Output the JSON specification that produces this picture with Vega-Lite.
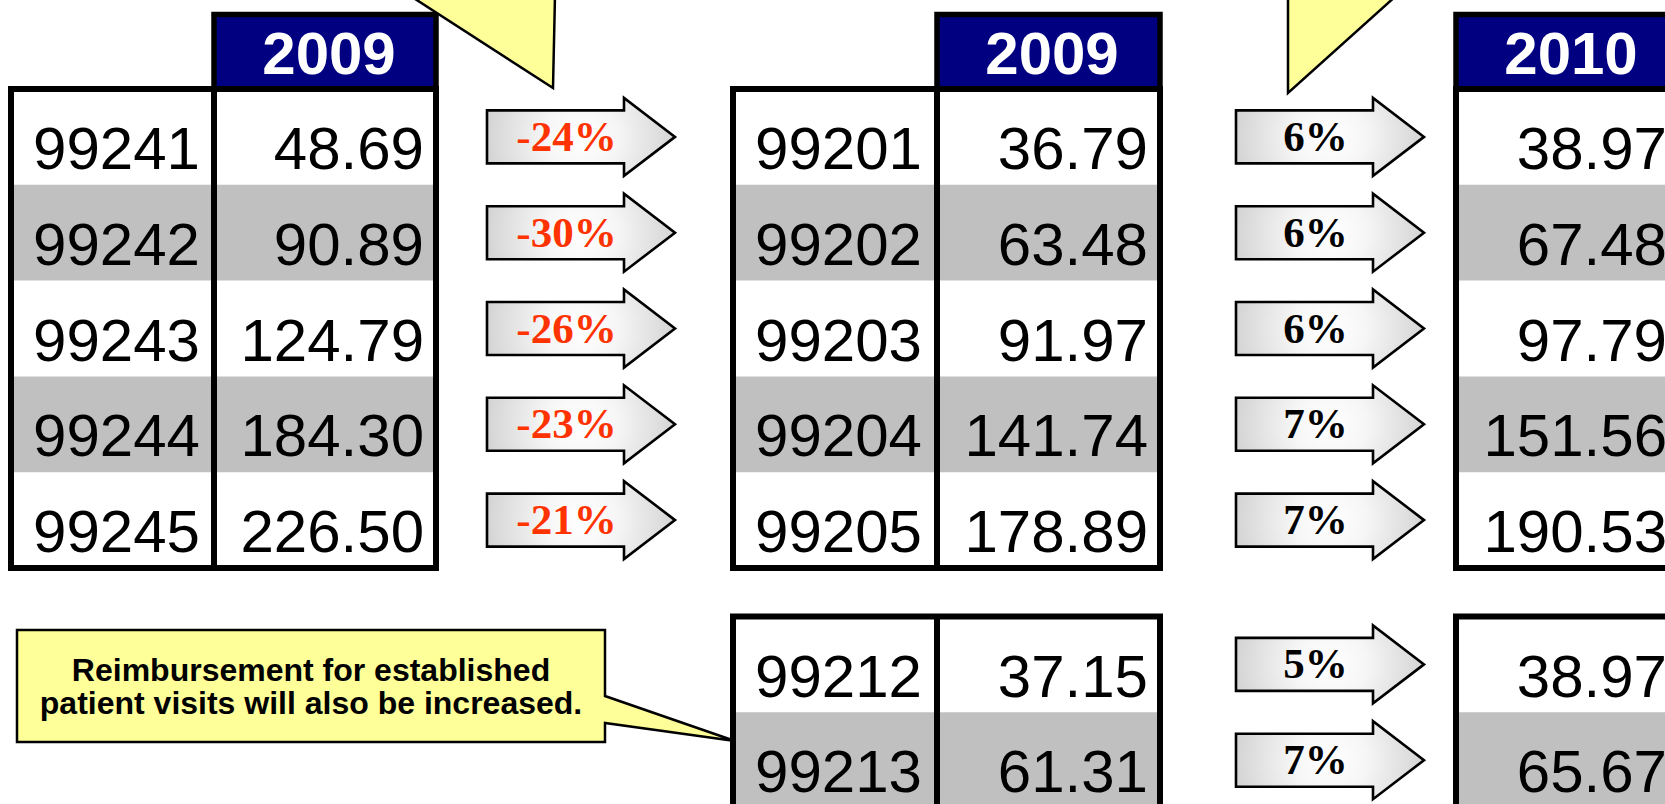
{
  "$schema": "https://vega.github.io/schema/vega-lite/v6.json",
  "width": 1665,
  "height": 804,
  "padding": 0,
  "autosize": {"type": "none"},
  "background": "white",
  "config": {"view": {"stroke": null}},
  "datasets": {
    "bands": [
      {"colL": 0, "colR": 2, "rowT": 2, "rowB": 3},
      {"colL": 0, "colR": 2, "rowT": 4, "rowB": 5},
      {"colL": 4, "colR": 6, "rowT": 2, "rowB": 3},
      {"colL": 4, "colR": 6, "rowT": 4, "rowB": 5},
      {"colL": 8, "colR": 9, "rowT": 2, "rowB": 3},
      {"colL": 8, "colR": 9, "rowT": 4, "rowB": 5},
      {"colL": 4, "colR": 6, "rowT": 8, "rowB": 9},
      {"colL": 8, "colR": 9, "rowT": 8, "rowB": 9}
    ],
    "headers": [
      {"year": "2009", "colL": 1, "colR": 2, "rowT": 0, "rowB": 1},
      {"year": "2009", "colL": 5, "colR": 6, "rowT": 0, "rowB": 1},
      {"year": "2010", "colL": 8, "colR": 9, "rowT": 0, "rowB": 1}
    ],
    "frames": [
      {"colL": 0, "colR": 2, "rowT": 1, "rowB": 6},
      {"colL": 4, "colR": 6, "rowT": 1, "rowB": 6},
      {"colL": 8, "colR": 9, "rowT": 1, "rowB": 6},
      {"colL": 4, "colR": 6, "rowT": 7, "rowB": 9},
      {"colL": 8, "colR": 9, "rowT": 7, "rowB": 9}
    ],
    "dividers": [
      {"col": 1, "rowT": 1, "rowB": 6},
      {"col": 5, "rowT": 1, "rowB": 6},
      {"col": 5, "rowT": 7, "rowB": 9}
    ],
    "cells": [
      {"code": "99241", "fee": "48.69", "colL": 0, "colR": 2, "row": 1},
      {"code": "99242", "fee": "90.89", "colL": 0, "colR": 2, "row": 2},
      {"code": "99243", "fee": "124.79", "colL": 0, "colR": 2, "row": 3},
      {"code": "99244", "fee": "184.30", "colL": 0, "colR": 2, "row": 4},
      {"code": "99245", "fee": "226.50", "colL": 0, "colR": 2, "row": 5},
      {"code": "99201", "fee": "36.79", "colL": 4, "colR": 6, "row": 1},
      {"code": "99202", "fee": "63.48", "colL": 4, "colR": 6, "row": 2},
      {"code": "99203", "fee": "91.97", "colL": 4, "colR": 6, "row": 3},
      {"code": "99204", "fee": "141.74", "colL": 4, "colR": 6, "row": 4},
      {"code": "99205", "fee": "178.89", "colL": 4, "colR": 6, "row": 5},
      {"code": "99212", "fee": "37.15", "colL": 4, "colR": 6, "row": 7},
      {"code": "99213", "fee": "61.31", "colL": 4, "colR": 6, "row": 8},
      {"code": "", "fee": "38.97", "colL": 8, "colR": 9, "row": 1},
      {"code": "", "fee": "67.48", "colL": 8, "colR": 9, "row": 2},
      {"code": "", "fee": "97.79", "colL": 8, "colR": 9, "row": 3},
      {"code": "", "fee": "151.56", "colL": 8, "colR": 9, "row": 4},
      {"code": "", "fee": "190.53", "colL": 8, "colR": 9, "row": 5},
      {"code": "", "fee": "38.97", "colL": 8, "colR": 9, "row": 7},
      {"code": "", "fee": "65.67", "colL": 8, "colR": 9, "row": 8}
    ],
    "changes": [
      {"pct": "-24%", "dir": "down", "col": 3, "row": 1.5},
      {"pct": "-30%", "dir": "down", "col": 3, "row": 2.5},
      {"pct": "-26%", "dir": "down", "col": 3, "row": 3.5},
      {"pct": "-23%", "dir": "down", "col": 3, "row": 4.5},
      {"pct": "-21%", "dir": "down", "col": 3, "row": 5.5},
      {"pct": "6%", "dir": "up", "col": 7, "row": 1.5},
      {"pct": "6%", "dir": "up", "col": 7, "row": 2.5},
      {"pct": "6%", "dir": "up", "col": 7, "row": 3.5},
      {"pct": "7%", "dir": "up", "col": 7, "row": 4.5},
      {"pct": "7%", "dir": "up", "col": 7, "row": 5.5},
      {"pct": "5%", "dir": "up", "col": 7, "row": 7.5},
      {"pct": "7%", "dir": "up", "col": 7, "row": 8.5}
    ],
    "callouts": [
      {"id": "topLeft", "col": 3, "row": 1},
      {"id": "topRight", "col": 7, "row": 1},
      {"id": "established", "col": 4, "row": 8}
    ],
    "notes": [
      {"note": "Reimbursement for established\npatient visits will also be increased.", "col": 4, "row": 8}
    ]
  },
  "layer": [
    {
      "data": {"name": "bands"},
      "mark": {"type": "rect", "fill": "#C0C0C0"},
      "encoding": {
        "x": {"field": "colL", "type": "quantitative", "axis": null, "scale": {"domain": [0,1,2,3,4,5,6,7,8,9], "range": [11,214,436,581,733,937,1160,1330,1456,1679], "zero": false, "nice": false}},
        "x2": {"field": "colR"},
        "y": {"field": "rowT", "type": "quantitative", "axis": null, "scale": {"domain": [0,1,2,3,4,5,6,7,8,9], "range": [14.5,89,184.8,280.6,376.4,472.2,568,616.5,712.3,808.1], "zero": false, "nice": false}},
        "y2": {"field": "rowB"}
      }
    },
    {
      "data": {"name": "headers"},
      "mark": {"type": "rect", "fill": "#000080", "stroke": "#000000", "strokeWidth": 5.5},
      "encoding": {
        "x": {"field": "colL", "type": "quantitative", "axis": null, "scale": {"domain": [0,1,2,3,4,5,6,7,8,9], "range": [11,214,436,581,733,937,1160,1330,1456,1679], "zero": false, "nice": false}},
        "x2": {"field": "colR"},
        "y": {"field": "rowT", "type": "quantitative", "axis": null, "scale": {"domain": [0,1,2,3,4,5,6,7,8,9], "range": [14.5,89,184.8,280.6,376.4,472.2,568,616.5,712.3,808.1], "zero": false, "nice": false}},
        "y2": {"field": "rowB"}
      }
    },
    {
      "data": {"name": "frames"},
      "mark": {"type": "rect", "fillOpacity": 0, "stroke": "#000000", "strokeWidth": 6},
      "encoding": {
        "x": {"field": "colL", "type": "quantitative", "axis": null, "scale": {"domain": [0,1,2,3,4,5,6,7,8,9], "range": [11,214,436,581,733,937,1160,1330,1456,1679], "zero": false, "nice": false}},
        "x2": {"field": "colR"},
        "y": {"field": "rowT", "type": "quantitative", "axis": null, "scale": {"domain": [0,1,2,3,4,5,6,7,8,9], "range": [14.5,89,184.8,280.6,376.4,472.2,568,616.5,712.3,808.1], "zero": false, "nice": false}},
        "y2": {"field": "rowB"}
      }
    },
    {
      "data": {"name": "dividers"},
      "mark": {"type": "rule", "color": "#000000", "strokeWidth": 6},
      "encoding": {
        "x": {"field": "col", "type": "quantitative", "axis": null, "scale": {"domain": [0,1,2,3,4,5,6,7,8,9], "range": [11,214,436,581,733,937,1160,1330,1456,1679], "zero": false, "nice": false}},
        "y": {"field": "rowT", "type": "quantitative", "axis": null, "scale": {"domain": [0,1,2,3,4,5,6,7,8,9], "range": [14.5,89,184.8,280.6,376.4,472.2,568,616.5,712.3,808.1], "zero": false, "nice": false}},
        "y2": {"field": "rowB"}
      }
    },
    {
      "data": {"name": "cells"},
      "mark": {"type": "text", "font": "Liberation Sans", "fontSize": 60, "align": "center", "baseline": "alphabetic", "dx": 105.5, "dy": 80, "color": "#000000"},
      "encoding": {
        "x": {"field": "colL", "type": "quantitative", "axis": null, "scale": {"domain": [0,1,2,3,4,5,6,7,8,9], "range": [11,214,436,581,733,937,1160,1330,1456,1679], "zero": false, "nice": false}},
        "y": {"field": "row", "type": "quantitative", "axis": null, "scale": {"domain": [0,1,2,3,4,5,6,7,8,9], "range": [14.5,89,184.8,280.6,376.4,472.2,568,616.5,712.3,808.1], "zero": false, "nice": false}},
        "text": {"field": "code"}
      }
    },
    {
      "data": {"name": "cells"},
      "mark": {"type": "text", "font": "Liberation Sans", "fontSize": 60, "align": "right", "baseline": "alphabetic", "dx": -12, "dy": 80, "color": "#000000"},
      "encoding": {
        "x": {"field": "colR", "type": "quantitative", "axis": null, "scale": {"domain": [0,1,2,3,4,5,6,7,8,9], "range": [11,214,436,581,733,937,1160,1330,1456,1679], "zero": false, "nice": false}},
        "y": {"field": "row", "type": "quantitative", "axis": null, "scale": {"domain": [0,1,2,3,4,5,6,7,8,9], "range": [14.5,89,184.8,280.6,376.4,472.2,568,616.5,712.3,808.1], "zero": false, "nice": false}},
        "text": {"field": "fee"}
      }
    },
    {
      "data": {"name": "headers"},
      "mark": {"type": "text", "font": "Liberation Sans", "fontSize": 60, "fontWeight": "bold", "align": "center", "baseline": "alphabetic", "dx": 115, "dy": -15, "color": "#FFFFFF"},
      "encoding": {
        "x": {"field": "colL", "type": "quantitative", "axis": null, "scale": {"domain": [0,1,2,3,4,5,6,7,8,9], "range": [11,214,436,581,733,937,1160,1330,1456,1679], "zero": false, "nice": false}},
        "y": {"field": "rowB", "type": "quantitative", "axis": null, "scale": {"domain": [0,1,2,3,4,5,6,7,8,9], "range": [14.5,89,184.8,280.6,376.4,472.2,568,616.5,712.3,808.1], "zero": false, "nice": false}},
        "text": {"field": "year"}
      }
    },
    {
      "data": {"name": "changes"},
      "mark": {
        "type": "point",
        "shape": "M-94,-26.5L43,-26.5L43,-39L94,0L43,39L43,26.5L-94,26.5Z",
        "size": 4,
        "filled": true,
        "opacity": 1,
        "fill": {"gradient": "radial", "x1": 0.5, "y1": 0.5, "r1": 0, "x2": 0.5, "y2": 0.5, "r2": 0.55, "stops": [{"offset": 0, "color": "#FFFFFF"}, {"offset": 0.35, "color": "#F6F6F6"}, {"offset": 1, "color": "#CFCFCF"}]},
        "stroke": "#000000",
        "strokeWidth": 2.6
      },
      "encoding": {
        "x": {"field": "col", "type": "quantitative", "axis": null, "scale": {"domain": [0,1,2,3,4,5,6,7,8,9], "range": [11,214,436,581,733,937,1160,1330,1456,1679], "zero": false, "nice": false}},
        "y": {"field": "row", "type": "quantitative", "axis": null, "scale": {"domain": [0,1,2,3,4,5,6,7,8,9], "range": [14.5,89,184.8,280.6,376.4,472.2,568,616.5,712.3,808.1], "zero": false, "nice": false}}
      }
    },
    {
      "data": {"name": "changes"},
      "mark": {"type": "text", "font": "Liberation Serif", "fontSize": 43, "fontWeight": "bold", "align": "center", "baseline": "alphabetic", "dx": -14.5, "dy": 14},
      "encoding": {
        "x": {"field": "col", "type": "quantitative", "axis": null, "scale": {"domain": [0,1,2,3,4,5,6,7,8,9], "range": [11,214,436,581,733,937,1160,1330,1456,1679], "zero": false, "nice": false}},
        "y": {"field": "row", "type": "quantitative", "axis": null, "scale": {"domain": [0,1,2,3,4,5,6,7,8,9], "range": [14.5,89,184.8,280.6,376.4,472.2,568,616.5,712.3,808.1], "zero": false, "nice": false}},
        "text": {"field": "pct"},
        "color": {"field": "dir", "type": "nominal", "legend": null, "scale": {"domain": ["down", "up"], "range": ["#FF3300", "#000000"]}}
      }
    },
    {
      "data": {"name": "callouts"},
      "mark": {"type": "point", "size": 4, "filled": true, "opacity": 1, "fill": "#FFFF99", "stroke": "#000000", "strokeWidth": 2.5},
      "encoding": {
        "x": {"field": "col", "type": "quantitative", "axis": null, "scale": {"domain": [0,1,2,3,4,5,6,7,8,9], "range": [11,214,436,581,733,937,1160,1330,1456,1679], "zero": false, "nice": false}},
        "y": {"field": "row", "type": "quantitative", "axis": null, "scale": {"domain": [0,1,2,3,4,5,6,7,8,9], "range": [14.5,89,184.8,280.6,376.4,472.2,568,616.5,712.3,808.1], "zero": false, "nice": false}},
        "shape": {"field": "id", "type": "nominal", "legend": null, "scale": {"domain": ["topLeft", "topRight", "established"], "range": ["M-28,-1L-172,-94L-26,-94Z", "M-42,4L-42,-94L67,-94Z", "M-716,-82.3L-128,-82.3L-128,-16.3L2,28.7L-128,10.7L-128,29.7L-716,29.7Z"]}}
      }
    },
    {
      "data": {"name": "notes"},
      "mark": {"type": "text", "font": "Liberation Sans", "fontSize": 32, "fontWeight": "bold", "align": "center", "baseline": "alphabetic", "lineBreak": "\n", "lineHeight": 33, "dx": -422, "dy": -31, "color": "#000000"},
      "encoding": {
        "x": {"field": "col", "type": "quantitative", "axis": null, "scale": {"domain": [0,1,2,3,4,5,6,7,8,9], "range": [11,214,436,581,733,937,1160,1330,1456,1679], "zero": false, "nice": false}},
        "y": {"field": "row", "type": "quantitative", "axis": null, "scale": {"domain": [0,1,2,3,4,5,6,7,8,9], "range": [14.5,89,184.8,280.6,376.4,472.2,568,616.5,712.3,808.1], "zero": false, "nice": false}},
        "text": {"field": "note"}
      }
    }
  ]
}
